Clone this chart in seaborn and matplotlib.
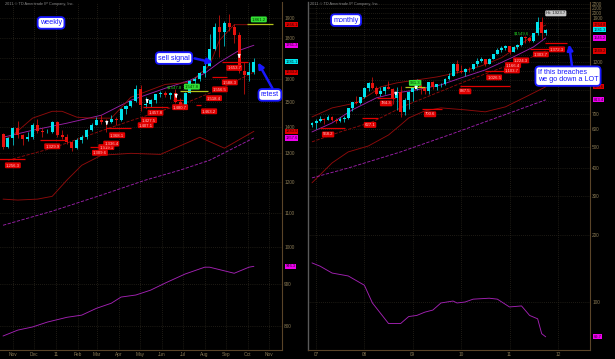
import datetime as dt
import numpy as np
import pandas as pd
import matplotlib
matplotlib.use("Agg")
import matplotlib.pyplot as plt
import matplotlib.dates as mdates
from matplotlib.ticker import FixedLocator, NullLocator, FuncFormatter
import seaborn as sns

# ---------------- data: weekly panel (weeks starting 2010-10-18) ----------------
week_start = "2010-10-18"
week_open = [1372,1325,1358,1397,1368,1352,1362,1406,1385,1379,1380,1421,1369,1361,1342,1318,1349,1360,1388,1409,
             1429,1421,1418,1430,1429,1474,1486,1504,1556,1491,1492,1509,1536,1542,1530,1539,1501,1486,1542,1592,
             1601,1628,1663,1742,1852,1828,1876,1856,1812,1637,1622,1635]
week_high = [1378,1360,1398,1424,1372,1380,1415,1432,1395,1391,1424,1423,1389,1374,1345,1358,1367,1392,1417,1440,
             1446,1433,1448,1440,1476,1489,1508,1576,1577,1522,1516,1538,1550,1550,1546,1559,1517,1545,1596,1611,
             1632,1681,1817,1877,1917,1884,1923,1869,1826,1680,1679,1697]
week_low = [1316,1318,1330,1358,1330,1344,1355,1378,1360,1376,1376,1362,1355,1334,1309,1316,1340,1354,1385,1407,
            1410,1381,1415,1406,1425,1450,1482,1500,1463,1478,1480,1497,1522,1521,1515,1496,1478,1482,1540,1576,
            1595,1612,1662,1740,1705,1760,1834,1773,1630,1535,1595,1626]
week_close = [1325,1358,1397,1368,1352,1362,1406,1385,1379,1380,1421,1369,1361,1342,1318,1349,1360,1388,1409,1429,
              1421,1418,1430,1429,1474,1486,1504,1556,1491,1492,1509,1536,1542,1530,1539,1501,1486,1542,1592,1601,
              1628,1663,1742,1852,1828,1876,1856,1812,1637,1622,1635,1681]

w_ma_idx = [0, 6, 13, 20, 26, 33, 38, 41, 44, 48, 51]
w_ma_val = [1360, 1387, 1415, 1447, 1509, 1561, 1596, 1628, 1679, 1736, 1761.3]
w_up_idx = [0, 2, 6, 10, 12, 15, 18, 22, 26, 33, 38, 42, 44, 47, 51]
w_up_val = [1349, 1368, 1435, 1463, 1463, 1439, 1435, 1435, 1522, 1578, 1587, 1665, 1786, 1866.1, 1866.1]
w_lo_idx = [0, 3, 7, 10, 13, 16, 20, 26, 32, 40, 45, 51]
w_lo_val = [1143, 1140, 1143, 1152, 1206, 1257, 1293, 1300, 1296, 1360, 1319, 1383.0]
w_dred_idx = [1, 10, 20, 26, 33, 38, 43, 48, 51]
w_dred_val = [1275, 1319, 1385, 1425, 1470, 1505, 1548, 1600, 1633.2]
w_dpur_idx = [0, 10, 20, 29, 36, 42, 51]
w_dpur_val = [1062, 1105, 1156, 1206, 1240, 1275, 1357.6]
w_low_idx = [0, 3, 6, 9, 13, 16, 19, 22, 24, 27, 30, 33, 37, 41, 42, 47, 50, 51]
w_low_val = [778, 791, 798, 809, 820, 825, 841, 853, 868, 873, 885, 903, 926, 944, 944, 928, 944, 946.3]

w_tag_idx = [2.0, 10.0, 19.7, 21.0, 22.0, 23.2, 29.0, 29.7, 31.0, 36.0, 41.9, 42.9, 44.1, 46.1, 47.0]
w_tag_val = [1257, 1326, 1302, 1323, 1336, 1368, 1407, 1427, 1457, 1480, 1463, 1518, 1556, 1587, 1653]
w_tag_txt = ["1,256.3", "1,329.9", "1,309.6", "1,319.1", "1,336.4", "1,368.1", "1,407.1", "1,427.5",
             "1,457.8", "1,480.7", "1,463.2", "1,518.4", "1,556.5", "1,588.3", "1,653.7"]
w_sup_start = [-1.0, 7.5, 17.7, 21.0, 28.5, 34.5, 39.3, 42.5, 44.5]
w_sup_end = [4.5, 13.0, 19.7, 26.0, 33.5, 36.6, 40.3, 45.6, 49.8]
w_sup_val = [1278, 1349, 1323, 1395, 1480, 1509, 1488, 1610, 1679]
w_green_idx = [38.4, 52.0]
w_green_val = [1568, 1894]
w_green_txt = ["1,547.8", "1,861.2"]
w_olive_start = [36.0, 49.6]
w_olive_end = [41.7, 54.9]
w_olive_val = [1547.8, 1868]
w_sig_idx = [21.1, 29.3, 35.2, 48.0]
w_sig_val = [1407, 1496, 1518, 1698]
w_axis_tags = [1866.1, 1761.3, 1681.1, 1633.2, 1383.0, 1357.6, 946.3]
w_axis_cols = ["red", "mag", "cyan", "red", "red", "mag", "mag"]
w_yticks = [800, 900, 1000, 1100, 1200, 1300, 1400, 1500, 1600, 1700, 1800, 1900]
w_hidden_ticks = []
w_xlabels = ["Nov", "Dec", "11", "Feb", "Mar", "Apr", "May", "Jun", "Jul", "Aug", "Sep", "Oct", "Nov"]

# ---------------- data: monthly panel (months starting 2006-12) ----------------
month_start = "2006-12-01"
month_open = [626,638,653,669,663,680,658,650,666,673,744,794,783,834,923,972,917,864,887,930,913,833,880,718,814,
              884,927,942,916,891,979,927,954,955,1008,1040,1182,1096,1081,1118,1115,1180,1215,1245,1181,1248,1308,
              1359,1386,1421,1333,1411,1439,1556,1536,1500,1628,1825,1620]
month_high = [648,665,690,672,697,691,672,684,686,749,795,848,840,932,976,1033,935,932,942,992,915,933,935,828,891,
              931,1007,963,928,983,990,960,970,1024,1070,1195,1227,1162,1127,1145,1184,1249,1266,1246,1250,1314,1388,
              1424,1432,1424,1417,1448,1576,1577,1559,1632,1917,1923.7,1697]
month_low = [612,604,648,636,662,652,640,648,649,669,724,775,780,833,890,911,855,850,860,908,775,735,681,698,740,
             800,903,864,865,867,914,905,931,945,1003,1038,1076,1072,1044,1086,1113,1160,1200,1155,1176,1242,1307,
             1330,1360,1309,1330,1381,1417,1463,1478,1482,1597,1535,1595]
month_close = [638,653,669,663,680,658,650,666,673,744,794,783,834,923,972,917,864,887,930,913,833,880,718,814,884,
               927,942,916,891,979,927,954,955,1008,1040,1182,1096,1081,1118,1115,1180,1215,1245,1181,1248,1308,1359,
               1386,1421,1333,1411,1439,1556,1536,1500,1628,1825,1620,1681]

m_ma_idx = [0, 5, 10, 16, 21, 26, 32, 37, 43, 50, 55, 58]
m_ma_val = [583, 640, 733, 830, 874, 902, 950, 1021, 1109, 1269, 1408, 1545.2]
m_up_idx = [0, 5, 11, 15, 17, 21, 26, 31, 37, 42, 47, 50, 54, 57, 58]
m_up_val = [681, 748, 788, 874, 930, 969, 1000, 1031, 1087, 1156, 1257, 1365, 1546, 1733, 1764.8]
m_lo_idx = [0, 5, 9, 14, 19, 22, 24, 28, 32, 38, 43, 48, 53, 58]
m_lo_val = [344, 423, 474, 504, 565, 627, 674, 725, 748, 733, 718, 756, 838, 930.6]
m_dred_idx = [0, 7, 15, 23, 31, 39, 47, 53, 58]
m_dred_val = [526, 583, 647, 764, 874, 1000, 1132, 1231, 1349.2]
m_dpur_idx = [0, 9, 22, 34, 47, 58]
m_dpur_val = [362, 401, 474, 565, 688, 813.4]
m_low_idx = [0, 2, 5, 9, 13, 15, 17, 19, 22, 24, 26, 28, 30, 32, 35, 36, 38, 40, 44, 46, 49, 52, 54, 56, 57, 58]
m_low_val = [150, 145, 135, 131, 119, 99, 89, 80, 80, 86, 87, 90, 92, 99, 101, 99, 100, 103, 104, 103, 95, 96,
             87, 84, 72, 69.7]

m_tag_idx = [4.0, 14.4, 18.4, 29.3, 38.0, 45.2, 49.6, 49.9, 51.9, 56.8, 60.8]
m_tag_val = [568, 627, 784, 700, 888, 1026, 1103, 1166, 1224, 1303, 1372]
m_tag_txt = ["568.2", "627.1", "784.3", "700.6", "887.5", "1,026.5", "1,103.7", "1,166.4", "1,224.3",
             "1,303.7", "1,372.3"]
m_sup_start = [2.0, 12.4, 16.1, 27.3, 36.7, 43.0, 54.0, 57.8]
m_sup_end = [8.2, 16.4, 20.6, 32.3, 49.1, 47.6, 59.0, 63.3]
m_sup_val = [608, 674, 830, 740, 940, 1100, 1380, 1468]
m_green_idx = [25.6]
m_green_val = [969]
m_green_txt = ["931.3"]
m_olive_start = [23.0]
m_olive_end = [28.0]
m_olive_val = [931]
m_sig_idx = [20.8, 25.8]
m_sig_val = [856, 911]
m_axis_tags = [1764.8, 1681.3, 1545.2, 1349.2, 930.6, 813.4, 69.7]
m_axis_cols = ["red", "cyan", "mag", "red", "red", "mag", "mag"]
m_yticks = list(range(100, 2400, 100))
m_hidden_ticks = [1000, 1100]   # covered by the "If this breaches" callout in the reference
m_xlabels = ["07", "08", "09", "10", "11", "12"]

# ---------------- style ----------------
UP = "#00e3ec"; DN = "#e8120e"; PURPLE = "#9a1fa8"; DRED = "#8e0b0b"
BOTP = "#a321b3"; TICKC = "#8a7a55"; BLUE = "#1818ff"
TAGC = {"red": ("#e00000", "#2a0000"), "mag": ("#ee00ee", "#300030"), "cyan": ("#00e8f0", "#002a30")}

sns.set_theme(style="dark", rc={"axes.facecolor": "black", "figure.facecolor": "black",
                                "savefig.facecolor": "black", "axes.edgecolor": "#5a4428"})
plt.rcParams["font.family"] = ["Liberation Sans", "DejaVu Sans"]

fig = plt.figure(figsize=(6.15, 3.59), dpi=100)
axL = fig.add_axes([0.0, 9 / 359, 282 / 615, 348 / 359])
axR = fig.add_axes([308 / 615, 9 / 359, 282 / 615, 348 / 359])

w0 = mdates.date2num(pd.Timestamp(week_start).to_pydatetime())
m0 = mdates.date2num(pd.Timestamp(month_start).to_pydatetime())
wk = lambda i: w0 + 7.0 * np.asarray(i, dtype=float)
mo = lambda i: m0 + 30.44 * np.asarray(i, dtype=float)
week_x = wk(np.arange(len(week_open)))
month_x = mdates.date2num(pd.date_range(month_start, periods=len(month_open), freq="MS").to_pydatetime())


def candles(ax, x, o, h, l, c, width):
    o, h, l, c = map(np.asarray, (o, h, l, c))
    cols = np.where(c >= o, UP, DN)
    ax.vlines(x, l, h, colors=cols, linewidth=0.5, zorder=4)
    body = np.maximum(np.abs(c - o), 0.002 * o)
    ax.bar(x, body, bottom=np.minimum(o, c), width=width, color=cols, linewidth=0, zorder=5)


def line(ax, xs, ys, color, ls="-", lw=0.65):
    sns.lineplot(x=np.asarray(xs), y=np.asarray(ys), ax=ax, color=color, linestyle=ls,
                 linewidth=lw, zorder=3)


def tag(ax, x, y, s, fc, tc, fs=3.1, z=7):
    ax.text(x, y, s, fontsize=fs, color=tc, ha="center", va="center", zorder=z,
            bbox=dict(boxstyle="round,pad=0.22,rounding_size=0.25", fc=fc, ec="none"))


def setup(ax, xlim, ylim, yticks, xticks, xlabels, axtags, hidden):
    ax.set_yscale("log")
    ax.set_xlim(*xlim)
    ax.set_ylim(*ylim)
    # pixels per decade of the log axis, to leave out tick labels that the price tags cover
    ppd = 348.0 / np.log10(ylim[1] / ylim[0])
    shown = [t for t in yticks if t not in hidden and all(abs(np.log10(t / v)) * ppd > 4.0 for v in axtags)]
    ax.yaxis.set_major_locator(FixedLocator(yticks))
    ax.yaxis.set_minor_locator(NullLocator())
    ax.yaxis.set_major_formatter(FuncFormatter(
        lambda v, p: f"{v:.0f}" if any(abs(v - s) < 1e-6 for s in shown) else ""))
    ax.yaxis.tick_right()
    ax.set_xticks(xticks)
    ax.set_xticklabels(xlabels)
    ax.xaxis.set_minor_locator(NullLocator())
    ax.tick_params(length=0, labelsize=3.4, labelcolor=TICKC, pad=1.5)
    ax.grid(True, color="#3a3428", linestyle=(0, (1, 2)), linewidth=0.5)
    ax.set_xlabel("")
    ax.set_ylabel("")
    for s in ax.spines.values():
        s.set_color("#5a4428")
        s.set_linewidth(0.8)
    ax.spines["top"].set_visible(False)


def panel(ax, x, o, h, l, c, cw, conv, ma, up, lo, dred, dpur, low, tags, sups, greens, olives, sigs, axtags):
    for ls, (ii, vv), col in [("-", ma, PURPLE), ("-", up, DRED), ("-", lo, DRED), ("--", dred, DRED),
                              ("--", dpur, PURPLE), ("-", low, BOTP)]:
        line(ax, conv(ii), vv, col, ls)
    candles(ax, x, o, h, l, c, cw)
    for s0, s1, v in zip(*sups):
        ax.hlines(v, conv(s0), conv(s1), colors="#e00000", linewidth=0.9, zorder=6)
    for s0, s1, v in zip(*olives):
        ax.hlines(v, conv(s0), conv(s1), colors="#b4c41a", linewidth=0.9, zorder=6)
    for i, v, t in zip(*tags):
        tag(ax, conv(i), v, t, "#e00000", "#ffc8c8")
    for i, v, t in zip(*greens):
        tag(ax, conv(i), v, t, "#33e033", "#003300")
    for i, v in zip(*sigs):
        ax.annotate("", xy=(conv(i), v * 0.994), xytext=(conv(i), v * 1.012),
                    arrowprops=dict(arrowstyle="-|>", color="white", lw=0.8, mutation_scale=3.5), zorder=8)
    tr = ax.get_yaxis_transform()
    for v, cname in zip(*axtags):
        fc, tc = TAGC[cname]
        ax.text(1.012, v, f"{v:.1f}", transform=tr, fontsize=2.9, color=tc, ha="left", va="center",
                zorder=9, clip_on=False,
                bbox=dict(boxstyle="square,pad=0.15", fc=fc, ec="none"))


panel(axL, week_x, week_open, week_high, week_low, week_close, 4.3, wk,
      (w_ma_idx, w_ma_val), (w_up_idx, w_up_val), (w_lo_idx, w_lo_val), (w_dred_idx, w_dred_val),
      (w_dpur_idx, w_dpur_val), (w_low_idx, w_low_val),
      (w_tag_idx, w_tag_val, w_tag_txt), (w_sup_start, w_sup_end, w_sup_val),
      (w_green_idx, w_green_val, w_green_txt), (w_olive_start, w_olive_end, w_olive_val),
      (w_sig_idx, w_sig_val), (w_axis_tags, w_axis_cols))
axL.text(wk(34.8), 1566, "$1547.8", fontsize=3.1, color="#22cc22", ha="center", va="center", zorder=7)

panel(axR, month_x, month_open, month_high, month_low, month_close, 22.0, mo,
      (m_ma_idx, m_ma_val), (m_up_idx, m_up_val), (m_lo_idx, m_lo_val), (m_dred_idx, m_dred_val),
      (m_dpur_idx, m_dpur_val), (m_low_idx, m_low_val),
      (m_tag_idx, m_tag_val, m_tag_txt), (m_sup_start, m_sup_end, m_sup_val),
      (m_green_idx, m_green_val, m_green_txt), (m_olive_start, m_olive_end, m_olive_val),
      (m_sig_idx, m_sig_val), (m_axis_tags, m_axis_cols))
axR.text(mo(52), 1611, "$1549.6", fontsize=3.1, color="#22cc22", ha="center", va="center", zorder=7)
tag(axR, mo(60.5), 1993, "Hi: 1923.7", "#c8c8c8", "#202020", fs=3.1)

w_ticks = mdates.date2num(pd.date_range("2010-11-01", "2011-11-01", freq="MS").to_pydatetime())
m_ticks = mdates.date2num(pd.date_range("2007-01-01", "2012-01-01", freq="YS").to_pydatetime())
setup(axL, (w0 - 4.3, w0 + 397), (748, 1989), w_yticks, w_ticks, w_xlabels, w_axis_tags, w_hidden_ticks)
setup(axR, (m0 - 30, m0 + 2100), (60.8, 2242), m_yticks, m_ticks, m_xlabels, m_axis_tags, m_hidden_ticks)
axL.spines["left"].set_visible(False)
axR.spines["left"].set_color("#5a5a5a")
axR.spines["left"].set_linewidth(1.0)

# callouts
box = dict(boxstyle="round,pad=0.32,rounding_size=0.5", fc="white", ec=BLUE, lw=1.3)
fs_note = 5.25
axL.text(0.181, 0.94, "weekly", transform=axL.transAxes, fontsize=fs_note, color=BLUE,
         ha="center", va="center", bbox=box, zorder=10)
axL.text(0.617, 0.839, "sell signal", transform=axL.transAxes, fontsize=fs_note, color=BLUE,
         ha="center", va="center", bbox=box, zorder=10)
axL.text(0.957, 0.733, "retest", transform=axL.transAxes, fontsize=fs_note, color=BLUE,
         ha="center", va="center", bbox=box, zorder=10, clip_on=False)
axR.text(0.135, 0.948, "monthly", transform=axR.transAxes, fontsize=fs_note, color=BLUE,
         ha="center", va="center", bbox=box, zorder=10)
axR.text(0.922, 0.787, "If this breaches\nwe go down a LOT", transform=axR.transAxes, fontsize=fs_note,
         color=BLUE, ha="center", va="center", multialignment="left", bbox=box, zorder=10,
         clip_on=False, linespacing=1.15)
arrow = dict(arrowstyle="-|>", color=BLUE, lw=1.8, mutation_scale=8, shrinkA=0, shrinkB=0)
axL.annotate("", xy=(0.755, 0.826), xytext=(0.69, 0.838), xycoords="axes fraction", arrowprops=arrow, zorder=10)
axL.annotate("", xy=(0.915, 0.826), xytext=(0.966, 0.752), xycoords="axes fraction", arrowprops=arrow, zorder=10)
axR.annotate("", xy=(0.926, 0.878), xytext=(0.936, 0.816), xycoords="axes fraction", arrowprops=arrow, zorder=10)

for xp in (5 / 615, 310 / 615):
    fig.text(xp, 1 - 4 / 359, "2011 © TD Ameritrade IP Company, Inc.", fontsize=2.8, color="#8a8a8a",
             ha="left", va="center")

fig.savefig("out.png", dpi=100, facecolor="black")
